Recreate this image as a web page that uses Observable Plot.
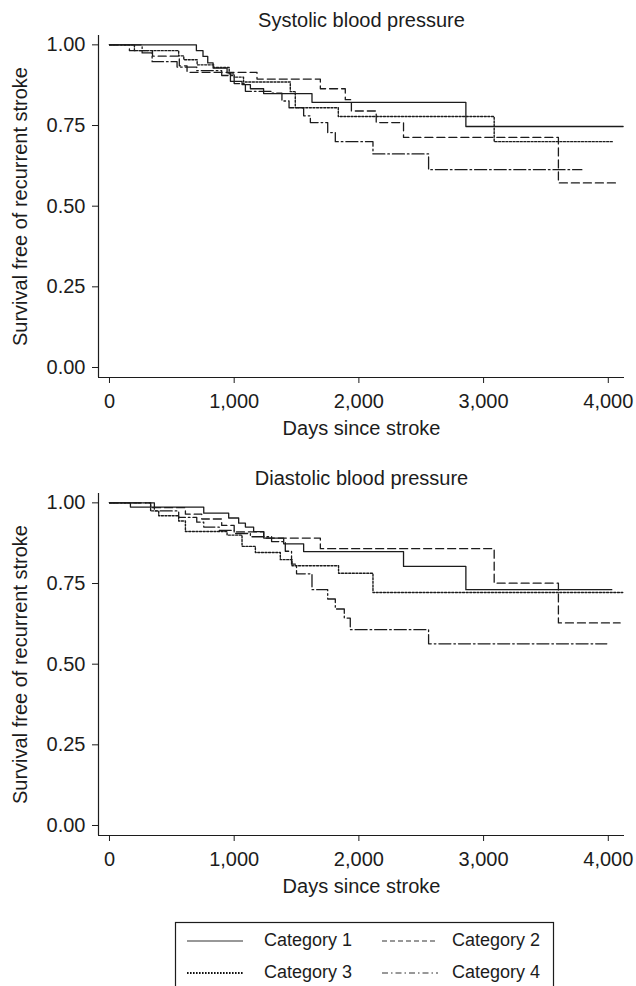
<!DOCTYPE html>
<html>
<head>
<meta charset="utf-8">
<script src="https://cdn.jsdelivr.net/npm/d3@7"></script>
<script src="https://cdn.jsdelivr.net/npm/@observablehq/plot@0.6"></script>
<style>
  body { margin: 0; background: #fff; }
  #wrap { position: relative; width: 636px; height: 986px; overflow: hidden; font-family: "Liberation Sans", Arial, sans-serif; background: #fff; }
  .panel { position: absolute; left: 0; }
</style>
</head>
<body>
<div id="wrap">
  <div class="panel" id="p1" style="top:0px"></div>
  <div class="panel" id="p2" style="top:458px"></div>
  <div class="panel" id="leg" style="top:900px"></div>
</div>
<script>
// ---- data ----
const categories = ["Category 1", "Category 2", "Category 3", "Category 4"];
const xTicks = [0, 1000, 2000, 3000, 4000];
const yTicks = [0, 0.25, 0.5, 0.75, 1];
const panelTitles = ["Systolic blood pressure", "Diastolic blood pressure"];
const xLabel = "Days since stroke";
const yLabel = "Survival free of recurrent stroke";

// Systolic
const sysCat1Days = [0, 697, 750, 788, 831, 943, 970, 1063, 1130, 1236, 1624, 2858, 4119];
const sysCat1Surv = [1.000, 0.982, 0.964, 0.944, 0.928, 0.913, 0.887, 0.877, 0.864, 0.849, 0.822, 0.747, 0.747];
const sysCat2Days = [0, 160, 345, 560, 622, 1183, 1691, 1891, 1940, 2139, 2358, 3600, 4068];
const sysCat2Surv = [1.000, 0.982, 0.965, 0.935, 0.915, 0.894, 0.864, 0.830, 0.795, 0.759, 0.713, 0.572, 0.572];
const sysCat3Days = [0, 200, 555, 596, 703, 836, 960, 1000, 1075, 1450, 1490, 1835, 3085, 4040];
const sysCat3Surv = [1.000, 0.982, 0.966, 0.954, 0.938, 0.930, 0.910, 0.900, 0.885, 0.855, 0.805, 0.778, 0.700, 0.700];
const sysCat4Days = [0, 262, 342, 542, 700, 900, 1000, 1090, 1300, 1383, 1440, 1557, 1611, 1750, 1811, 2113, 2559, 3788];
const sysCat4Surv = [1.000, 0.975, 0.948, 0.931, 0.920, 0.905, 0.880, 0.856, 0.850, 0.826, 0.805, 0.780, 0.759, 0.728, 0.700, 0.662, 0.613, 0.613];

// Diastolic
const diaCat1Days = [0, 168, 756, 956, 1036, 1090, 1156, 1237, 1397, 1557, 2358, 2858, 4028];
const diaCat1Surv = [1.000, 0.987, 0.968, 0.953, 0.937, 0.925, 0.911, 0.891, 0.873, 0.849, 0.803, 0.731, 0.731];
const diaCat2Days = [0, 330, 609, 740, 900, 1000, 1237, 1691, 3085, 3600, 4095];
const diaCat2Surv = [1.000, 0.985, 0.965, 0.950, 0.930, 0.910, 0.891, 0.858, 0.751, 0.628, 0.628];
const diaCat3Days = [0, 330, 395, 555, 609, 943, 1063, 1170, 1370, 1464, 1837, 2113, 4116];
const diaCat3Surv = [1.000, 0.975, 0.960, 0.944, 0.911, 0.900, 0.865, 0.846, 0.824, 0.805, 0.782, 0.722, 0.722];
const diaCat4Days = [0, 360, 555, 700, 756, 880, 1000, 1130, 1300, 1410, 1460, 1500, 1624, 1750, 1811, 1883, 1931, 2559, 3988];
const diaCat4Surv = [1.000, 0.975, 0.955, 0.940, 0.925, 0.915, 0.905, 0.895, 0.880, 0.850, 0.810, 0.780, 0.731, 0.702, 0.671, 0.643, 0.607, 0.563, 0.563];

// ---- build tables ----
function table(seriesList) {
  const out = [];
  seriesList.forEach(([days, surv], i) => {
    days.forEach((d, j) => out.push({cat: categories[i], day: d, surv: surv[j]}));
  });
  return out;
}
const sysData = table([[sysCat1Days, sysCat1Surv], [sysCat2Days, sysCat2Surv], [sysCat3Days, sysCat3Surv], [sysCat4Days, sysCat4Surv]]);
const diaData = table([[diaCat1Days, diaCat1Surv], [diaCat2Days, diaCat2Surv], [diaCat3Days, diaCat3Surv], [diaCat4Days, diaCat4Surv]]);

const ink = "#1c1c1c";
const dashes = {"Category 1": undefined, "Category 2": "8,4", "Category 3": "2,1.6", "Category 4": "12,3,1.6,3"};
const widths = {"Category 1": 1.3, "Category 2": 1.3, "Category 3": 1.4, "Category 4": 1.3};
const xMin = -88, xMax = 4130, yMin = -0.031, yMax = 1.029;
const fontFamily = "'Liberation Sans', Arial, sans-serif";

function panel(title, data) {
  const lines = categories.map(c => Plot.line(data.filter(d => d.cat === c), {
    x: "day", y: "surv", curve: "step-after", stroke: ink,
    strokeWidth: widths[c], strokeDasharray: dashes[c]
  }));
  return Plot.plot({
    width: 636, height: 458,
    marginLeft: 98, marginRight: 12, marginTop: 35, marginBottom: 81,
    x: {domain: [xMin, xMax]},
    y: {domain: [yMin, yMax]},
    style: {fontFamily, fontSize: "20px", color: ink, background: "white", overflow: "visible"},
    marks: [
      Plot.ruleX([xMin], {stroke: ink, strokeWidth: 1.2}),
      Plot.ruleY([yMin], {stroke: ink, strokeWidth: 1.2}),
      Plot.axisX({ticks: xTicks, tickFormat: d3.format(","), tickSize: 6, tickPadding: 10, label: null, stroke: ink, fill: ink}),
      Plot.axisY({ticks: yTicks, tickFormat: d3.format(".2f"), tickSize: 6, tickPadding: 7, label: null, stroke: ink, fill: ink}),
      ...lines,
      Plot.text([title], {text: d => d, frameAnchor: "top", dy: -14.5, lineAnchor: "middle", fontSize: 20, fill: ink}),
      Plot.text([xLabel], {text: d => d, frameAnchor: "bottom", dy: 51, lineAnchor: "middle", fontSize: 20, fill: ink}),
      Plot.text([yLabel], {text: d => d, frameAnchor: "left", dx: -78, rotate: -90, lineAnchor: "middle", textAnchor: "middle", fontSize: 20, fill: ink})
    ]
  });
}

document.getElementById("p1").appendChild(panel(panelTitles[0], sysData));
document.getElementById("p2").appendChild(panel(panelTitles[1], diaData));

// ---- legend ----
const legendDash = {"Category 1": null, "Category 2": "5,3", "Category 3": "1.6,1.4", "Category 4": "6,3,1.5,3"};
const leg = d3.select("#leg").append("svg").attr("width", 636).attr("height", 86)
  .style("font-family", fontFamily);
leg.append("rect").attr("x", 175.5).attr("y", 22.5).attr("width", 378).attr("height", 80)
  .attr("fill", "none").attr("stroke", ink).attr("stroke-width", 1.2);
const pos = [
  {lx: 187, tx: 264, y: 40},
  {lx: 382, tx: 452, y: 40},
  {lx: 187, tx: 264, y: 72},
  {lx: 382, tx: 452, y: 72}
];
categories.forEach((c, i) => {
  const p = pos[i];
  leg.append("line").attr("x1", p.lx).attr("x2", p.lx + 56).attr("y1", p.y + 1).attr("y2", p.y + 1)
    .attr("stroke", c === "Category 3" ? "#111" : "#333")
    .attr("stroke-width", c === "Category 3" ? 2 : 1.1)
    .attr("stroke-dasharray", legendDash[c]);
  leg.append("text").attr("x", p.tx).attr("y", p.y).attr("dy", "0.35em")
    .attr("font-size", 18).attr("fill", ink).text(c);
});
</script>
</body>
</html>
